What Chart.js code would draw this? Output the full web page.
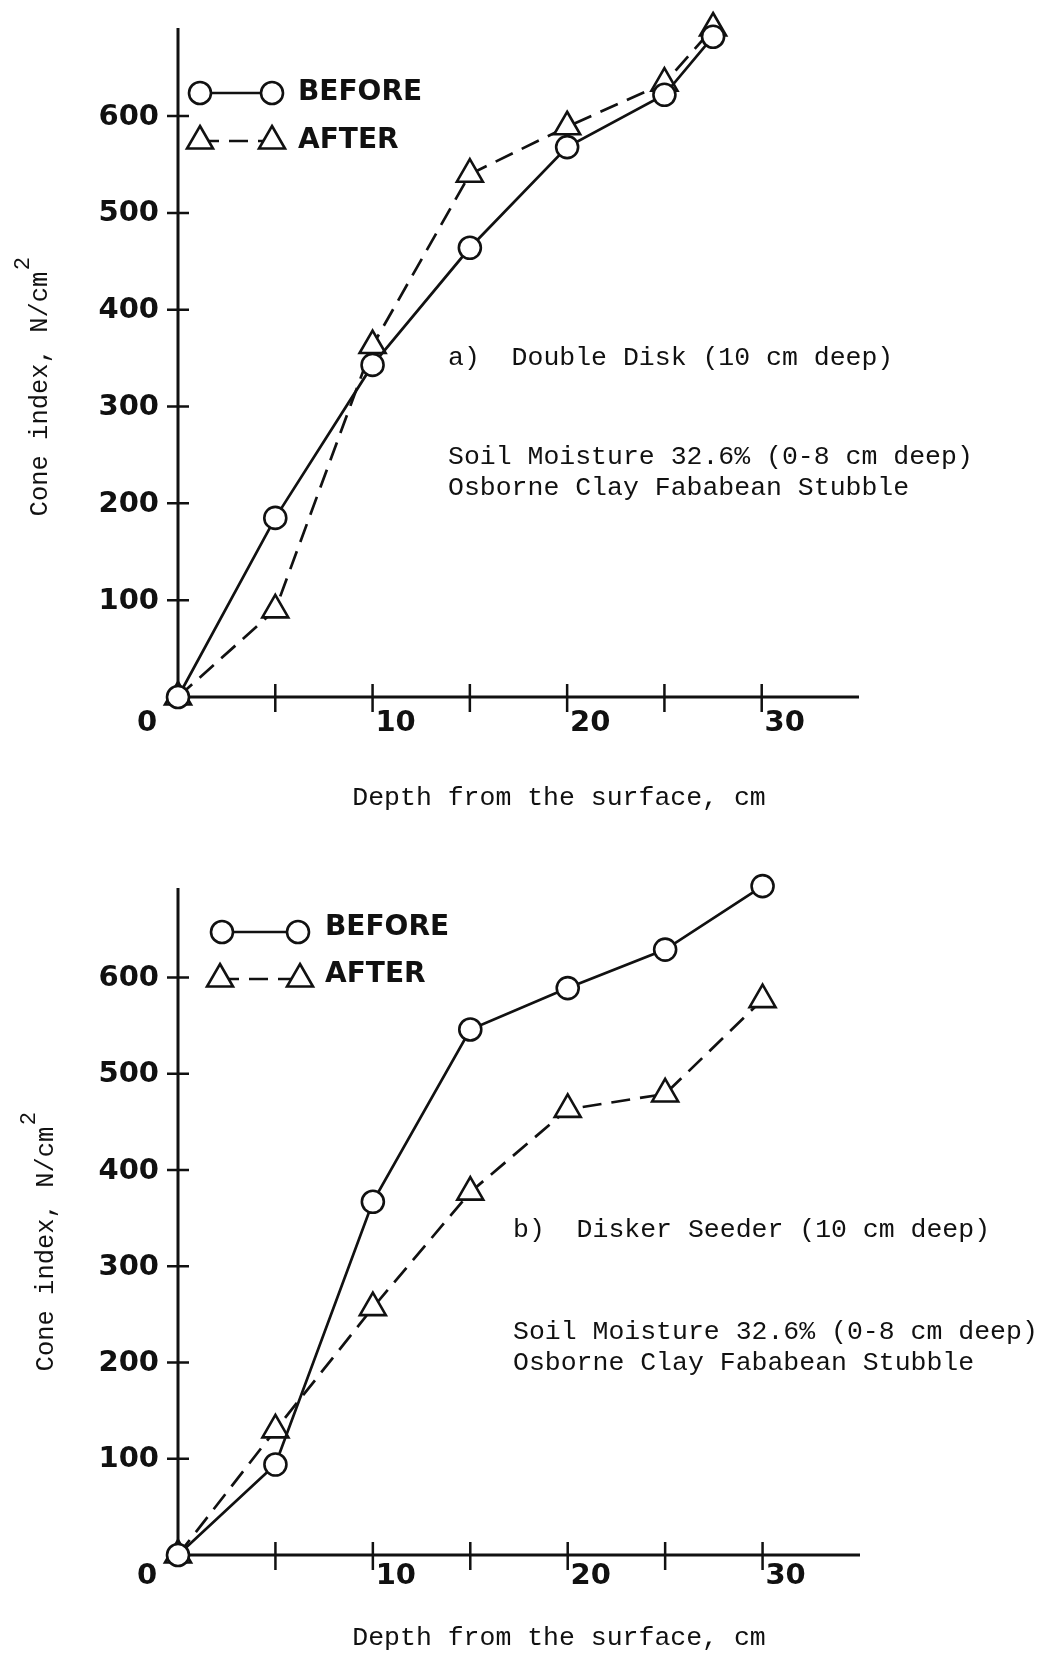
<!DOCTYPE html>
<html>
<head>
<meta charset="utf-8">
<title>Cone index vs depth</title>
<script src="https://cdn.jsdelivr.net/npm/chart.js@4.4.1/dist/chart.umd.min.js"></script>
<style>
  body { margin: 0; background: #fff; }
  .panel { position: absolute; left: 0; width: 1040px; height: 827px; }
  #panel-a { top: 0; }
  #panel-b { top: 827px; }
</style>
</head>
<body>
<div class="panel" id="panel-a"><canvas id="chart-a" width="1040" height="827"></canvas></div>
<div class="panel" id="panel-b"><canvas id="chart-b" width="1040" height="827"></canvas></div>
<script>
// a) Double Disk
const depthA = [0, 5, 10, 15, 20, 25, 27.5];
const beforeA = [0, 185, 343, 464, 568, 622, 682];
const afterA = [0, 90, 363, 540, 589, 634, 691];

// b) Disker Seeder
const depthB = [0, 5, 10, 15, 20, 25, 30];
const beforeB = [0, 94, 367, 546, 589, 629, 695];
const afterB = [0, 130, 257, 377, 463, 479, 577];

const yTicks = [100, 200, 300, 400, 500, 600];
const xTicks = [5, 10, 15, 20, 25, 30];
const xTickLabels = { 10: '10', 20: '20', 30: '30' };
const legendLabels = ['BEFORE', 'AFTER'];
const yAxisTitle = 'Cone index, N/cm';
const xAxisTitle = 'Depth from the surface, cm';
const captionA = 'a)  Double Disk (10 cm deep)';
const captionB = 'b)  Disker Seeder (10 cm deep)';
const noteLines = ['Soil Moisture 32.6% (0-8 cm deep)', 'Osborne Clay Fababean Stubble'];

const ink = '#111';
const boldFont = 'bold 29px "DejaVu Sans"';
const legendFont = 'bold 28px "DejaVu Sans"';
const typeFont = '26.5px "Liberation Mono"';

// --- axes, labels, legend and notes drawn in the old paper style ---
const paperPlugin = {
    id: 'paper',
    beforeDatasetsDraw(chart, args, cfg) {
        const { ctx, scales: { x, y } } = chart;
        const x0 = x.getPixelForValue(0);
        const y0 = y.getPixelForValue(0);
        const yTop = y.getPixelForValue(y.max);
        const xEnd = x.getPixelForValue(x.max);

        ctx.save();
        ctx.strokeStyle = ink;
        ctx.fillStyle = ink;
        ctx.lineWidth = 3;
        ctx.beginPath();
        ctx.moveTo(x0, yTop);
        ctx.lineTo(x0, y0 + 2);
        ctx.moveTo(x0 - 1, y0);
        ctx.lineTo(xEnd, y0);
        ctx.stroke();

        ctx.lineWidth = 2.5;
        ctx.beginPath();
        yTicks.forEach(v => {
            const py = y.getPixelForValue(v);
            ctx.moveTo(x0 - 11, py);
            ctx.lineTo(x0 + 11, py);
        });
        xTicks.forEach(v => {
            const px = x.getPixelForValue(v);
            ctx.moveTo(px, y0 - 13);
            ctx.lineTo(px, y0 + 15);
        });
        ctx.stroke();

        // tick labels
        ctx.font = boldFont;
        ctx.textAlign = 'right';
        ctx.textBaseline = 'middle';
        yTicks.forEach(v => ctx.fillText(String(v), x0 - 19, y.getPixelForValue(v) + 1));
        ctx.textAlign = 'center';
        ctx.fillText('0', x0 - 31, y0 + cfg.xLabelDy);
        xTicks.forEach(v => {
            if (xTickLabels[v]) ctx.fillText(xTickLabels[v], x.getPixelForValue(v) + 23, y0 + cfg.xLabelDy);
        });

        // axis titles
        ctx.font = typeFont;
        ctx.fillText(xAxisTitle, 559, cfg.xTitleY);
        ctx.save();
        ctx.translate(cfg.yTitleX, cfg.yTitleY);
        ctx.rotate(-Math.PI / 2);
        ctx.font = '25.5px "Liberation Mono"';
        ctx.fillText(yAxisTitle, 0, 0);
        const w = ctx.measureText(yAxisTitle).width;
        ctx.font = '22px "Liberation Mono"';
        ctx.fillText('2', w / 2 + 8, -17);
        ctx.restore();

        // caption and soil notes
        ctx.font = typeFont;
        ctx.textAlign = 'left';
        ctx.fillText(cfg.caption, cfg.captionX, cfg.captionY);
        noteLines.forEach((line, i) => ctx.fillText(line, cfg.captionX, cfg.noteY + i * 31));

        // legend: marker - line - marker, then label
        chart.data.datasets.forEach((ds, i) => {
            const lg = cfg.legend[i];
            ctx.save();
            ctx.strokeStyle = ink;
            ctx.lineWidth = ds.borderWidth;
            ctx.setLineDash(ds.borderDash || []);
            ctx.beginPath();
            ctx.moveTo(lg.x1, lg.y);
            ctx.lineTo(lg.x2, lg.y);
            ctx.stroke();
            ctx.setLineDash([]);
            ctx.fillStyle = '#fff';
            ctx.lineWidth = ds.pointBorderWidth;
            [lg.x1, lg.x2].forEach(px => {
                Chart.helpers.drawPoint(ctx, {
                    pointStyle: ds.pointStyle, radius: ds.pointRadius,
                    borderWidth: ds.pointBorderWidth, rotation: 0
                }, px, lg.y);
            });
            ctx.fillStyle = ink;
            ctx.font = legendFont;
            ctx.textAlign = 'left';
            ctx.textBaseline = 'middle';
            ctx.fillText(legendLabels[i], lg.textX, lg.textY);
            ctx.restore();
        });
        ctx.restore();
    }
};

function makeDatasets(depth, before, after) {
    const common = {
        borderColor: ink,
        borderWidth: 2.7,
        pointBorderColor: ink,
        pointBackgroundColor: '#fff',
        pointBorderWidth: 2.6,
        tension: 0,
        clip: false
    };
    return [
        { ...common, label: legendLabels[0], data: depth.map((d, i) => ({ x: d, y: before[i] })),
          pointStyle: 'circle', pointRadius: 11 },
        { ...common, label: legendLabels[1], data: depth.map((d, i) => ({ x: d, y: after[i] })),
          pointStyle: 'triangle', pointRadius: 15, borderDash: [19, 10] }
    ];
}

function makeChart(canvasId, depth, before, after, yMax, padding, paperCfg) {
    const ctx = document.getElementById(canvasId).getContext('2d');
    return new Chart(ctx, {
        type: 'line',
        data: { datasets: makeDatasets(depth, before, after) },
        options: {
            responsive: false,
            animation: false,
            events: [],
            layout: { padding: padding },
            scales: {
                x: { type: 'linear', min: 0, max: 35, display: false },
                y: { type: 'linear', min: 0, max: yMax, display: false }
            },
            plugins: {
                legend: { display: false },
                tooltip: { enabled: false },
                paper: paperCfg
            }
        },
        plugins: [paperPlugin]
    });
}

makeChart('chart-a', depthA, beforeA, afterA, 691,
    { left: 178, right: 181, top: 28, bottom: 130 },
    {
        xLabelDy: 26, xTitleY: 798, yTitleX: 40, yTitleY: 394,
        caption: captionA, captionX: 448, captionY: 358, noteY: 457,
        legend: [
            { x1: 200, x2: 272, y: 93, textX: 298, textY: 93 },
            { x1: 200, x2: 272, y: 141, textX: 298, textY: 141 }
        ]
    });

makeChart('chart-b', depthB, beforeB, afterB, 693,
    { left: 178, right: 180, top: 61, bottom: 99 },
    {
        xLabelDy: 21, xTitleY: 811, yTitleX: 46, yTitleY: 422,
        caption: captionB, captionX: 513, captionY: 403, noteY: 505,
        legend: [
            { x1: 222, x2: 298, y: 105, textX: 325, textY: 101 },
            { x1: 220, x2: 300, y: 152, textX: 325, textY: 148 }
        ]
    });
</script>
</body>
</html>
